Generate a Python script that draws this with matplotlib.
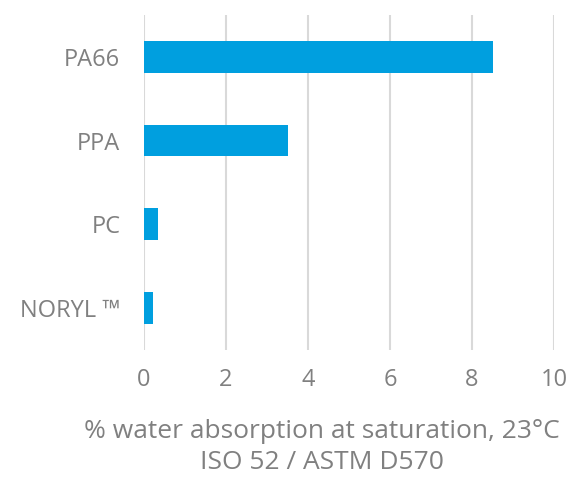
import matplotlib.pyplot as plt

materials = ['PA66', 'PPA', 'PC', 'NORYL ™']
absorption = [8.5, 3.5, 0.33, 0.22]
xticks = [0, 2, 4, 6, 8, 10]

plt.rcParams['font.family'] = ['Open Sans', 'DejaVu Sans']
grey = '#808080'

fig = plt.figure(figsize=[5.7, 4.82], dpi=100)
ax = fig.add_axes([0.2526, 0.274, 0.7195, 0.695])

ypos = list(range(len(materials)))[::-1]
ax.barh(ypos, absorption, height=0.38, color='#009fdf', zorder=3)

ax.set_xlim(0, 10)
ax.set_ylim(-0.5, len(materials) - 0.5)
ax.set_xticks(xticks)
ax.set_xticklabels([str(t) for t in xticks])
ax.set_yticks(ypos)
ax.set_yticklabels(materials)
ax.grid(axis='x', color='#d9d9d9', linewidth=1.5, zorder=0)
ax.tick_params(length=0, labelsize=17, colors=grey, pad=13)
ax.tick_params(axis='y', pad=17)
for s in ax.spines.values():
    s.set_visible(False)

fig.text(0.564, 0.072, '% water absorption at saturation, 23°C\nISO 52 / ASTM D570',
         fontsize=19, color=grey, ha='center', va='center', linespacing=1.3,
         multialignment='center')

fig.savefig('out.png', dpi=100)
